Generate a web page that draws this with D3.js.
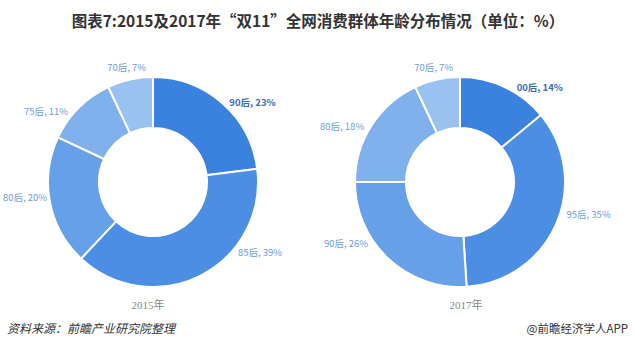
<!DOCTYPE html>
<html lang="zh">
<head>
<meta charset="UTF-8">
<title>2015及2017年双11全网消费群体年龄分布</title>
<script src="https://cdn.jsdelivr.net/npm/d3@7/dist/d3.min.js"></script>
<style>
    body { margin: 0; background: #fff; font-family: "Noto Sans CJK SC", "Noto Sans", sans-serif; }
    svg { display: block; }
</style>
</head>
<body>
<svg id="chart" width="636" height="364"></svg>
<script>
    // data (clockwise from 12 o'clock)
    const groups2015 = ["90后", "85后", "80后", "75后", "70后"];
    const shares2015 = [23, 39, 20, 11, 7];
    const groups2017 = ["00后", "95后", "90后", "80后", "70后"];
    const shares2017 = [14, 35, 26, 18, 7];
    const years = ["2015年", "2017年"];

    const title = "图表7:2015及2017年“双11”全网消费群体年龄分布情况（单位：%）";
    const source = "资料来源：前瞻产业研究院整理";
    const credit = "@前瞻经济学人APP";

    const width = 636, height = 364;
    const svg = d3.select("#chart");

    // slice colours, darkest first
    const color = d3.scaleOrdinal()
        .domain(d3.range(5))
        .range(["#3b82df", "#4c8ee4", "#66a0e9", "#80b1ed", "#9ac2f1"]);

    const outerR = 105, innerR = 54;
    const arc = d3.arc().innerRadius(innerR).outerRadius(outerR);
    const pie = d3.pie().sort(null).value(d => d.v);

    // Excel moved a few labels off the slice middle, nudges in degrees
    const labelNudge = [
        [6, -26, 3, -8, 1],
        [11, -7, 15, -4, 1]
    ];

    svg.append("text")
        .attr("x", 318).attr("y", 27)
        .attr("text-anchor", "middle")
        .attr("font-size", 15.5).attr("font-weight", "bold")
        .attr("fill", "#333")
        .text(title);

    function drawDonut(cx, cy, names, values, year, nudge, yearX) {
        const g = svg.append("g").attr("transform", `translate(${cx},${cy})`);
        const data = pie(names.map((n, i) => ({ n: n, v: values[i] })));

        g.selectAll("path")
            .data(data)
            .join("path")
            .attr("d", arc)
            .attr("fill", (d, i) => color(i))
            .attr("stroke", "#fff")
            .attr("stroke-width", 2);

        g.selectAll("text.lbl")
            .data(data)
            .join("text")
            .attr("class", "lbl")
            .attr("font-size", 9.5)
            .attr("font-weight", (d, i) => i === 0 ? "bold" : "normal")
            .attr("fill", (d, i) => i === 0 ? "#3c6db4" : "#6d9dd8")
            .attr("text-anchor", "middle")
            .attr("dy", "0.35em")
            .text(d => `${d.data.n}, ${d.data.v}%`)
            .each(function (d, i) {
                const a = (d.startAngle + d.endAngle) / 2 + nudge[i] * Math.PI / 180;
                const w = this.getComputedTextLength();
                const r = 110;
                let x = Math.sin(a) * r + Math.sin(a) * (w / 2 + 2);
                const y = -Math.cos(a) * r - Math.cos(a) * 7;
                // keep the label inside the page
                x = Math.max(x, -cx + w / 2 + 3);
                d3.select(this).attr("x", x).attr("y", y);
            });

        svg.append("text")
            .attr("x", yearX).attr("y", 309)
            .attr("text-anchor", "middle")
            .attr("font-family", "'Liberation Serif', 'Noto Sans CJK SC', serif")
            .attr("font-size", 11)
            .attr("fill", "#888")
            .text(year);
    }

    drawDonut(153, 182, groups2015, shares2015, years[0], labelNudge[0], 148);
    drawDonut(460, 182, groups2017, shares2017, years[1], labelNudge[1], 466);

    svg.append("text")
        .attr("x", 7).attr("y", 333)
        .attr("font-size", 12).attr("font-style", "italic")
        .attr("fill", "#333")
        .text(source);

    svg.append("text")
        .attr("x", 628).attr("y", 333)
        .attr("text-anchor", "end")
        .attr("font-size", 11.5)
        .attr("fill", "#333")
        .text(credit);
</script>
</body>
</html>
